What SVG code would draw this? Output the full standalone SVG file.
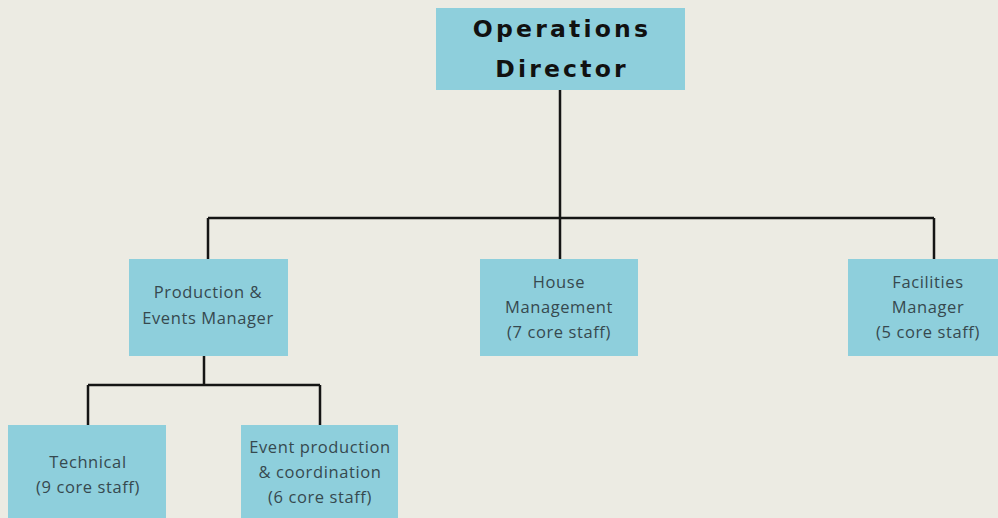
<svg xmlns="http://www.w3.org/2000/svg" width="998" height="518" viewBox="0 0 998 518">
<style>
.box{fill:#8ecfdc;}
.t{font-family:"Open Sans",Lato,"Liberation Sans",sans-serif;font-size:16.5px;fill:#36494f;text-anchor:middle;letter-spacing:0.6px;}
.h{font-family:"DejaVu Sans","Liberation Sans",Arial,sans-serif;font-weight:bold;font-size:23.5px;fill:#111;text-anchor:middle;letter-spacing:3.2px;}
.c{fill:none;stroke:#151515;stroke-width:2.5;}
</style>
<rect width="998" height="518" fill="#ecebe3"/>
<g id="connectors">
<path class="c" d="M560 90 V218 M208 218 H934 M208 218 V259 M560 218 V259 M934 218 V259"/>
<path class="c" d="M204 356 V385 M88 385 H320 M88 385 V425 M320 385 V425"/>
</g>
<g id="operations-director">
<rect class="box" x="436" y="8" width="249" height="82"/>
<text class="h" x="562" y="37">Operations</text>
<text class="h" x="562" y="77">Director</text>
</g>
<g id="production-events">
<rect class="box" x="129" y="259" width="159" height="97"/>
<text class="t" x="208" y="298">Production &amp;</text>
<text class="t" x="208" y="324">Events Manager</text>
</g>
<g id="house-management">
<rect class="box" x="480" y="259" width="158" height="97"/>
<text class="t" x="559" y="288">House</text>
<text class="t" x="559" y="313">Management</text>
<text class="t" x="559" y="338">(7 core staff)</text>
</g>
<g id="facilities-manager">
<rect class="box" x="848" y="259" width="150" height="97"/>
<text class="t" x="928" y="288">Facilities</text>
<text class="t" x="928" y="313">Manager</text>
<text class="t" x="928" y="338">(5 core staff)</text>
</g>
<g id="technical">
<rect class="box" x="8" y="425" width="158" height="93"/>
<text class="t" x="88" y="468">Technical</text>
<text class="t" x="88" y="493">(9 core staff)</text>
</g>
<g id="event-production">
<rect class="box" x="241" y="425" width="157" height="93"/>
<text class="t" x="320" y="453">Event production</text>
<text class="t" x="320" y="478">&amp; coordination</text>
<text class="t" x="320" y="503">(6 core staff)</text>
</g>
</svg>
